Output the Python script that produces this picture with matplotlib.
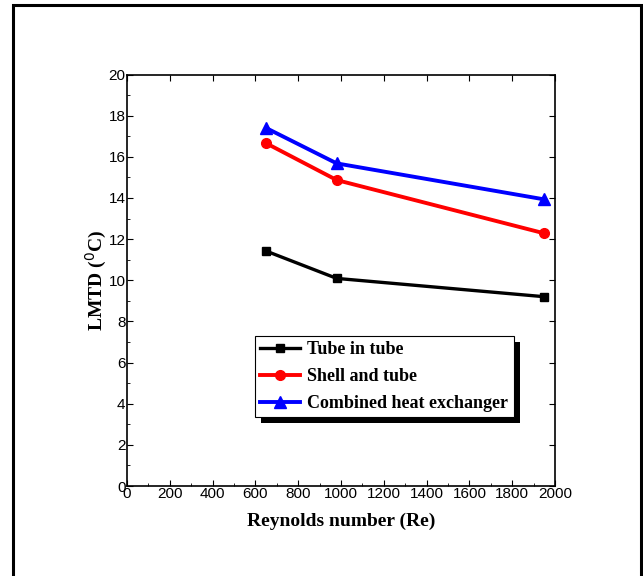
import numpy as np
import matplotlib
matplotlib.use('Agg')
import matplotlib.pyplot as plt
from matplotlib.patches import Rectangle
from matplotlib.ticker import MultipleLocator

# LMTD against Reynolds number for the three exchangers
re_vals = [650, 980, 1950]
lmtd_tube = [11.42, 10.09, 9.2]
lmtd_shell = [16.66, 14.87, 12.28]
lmtd_comb = [17.4, 15.68, 13.93]
names = ['Tube in tube', 'Shell and tube', 'Combined heat exchanger']

serif_bold = {'family': 'Liberation Serif', 'weight': 'bold'}
plt.rcParams['font.family'] = ['Liberation Sans Narrow', 'Liberation Sans', 'DejaVu Sans']

fig = plt.figure(figsize=(6.43, 5.76), dpi=100)
ax = fig.add_axes([0.1975, 0.15625, 0.6656, 0.7144])

ax.plot(re_vals, lmtd_tube, color='black', lw=2.4, marker='s', ms=6, label=names[0])
ax.plot(re_vals, lmtd_shell, color='red', lw=2.8, marker='o', ms=7, label=names[1])
ax.plot(re_vals, lmtd_comb, color='blue', lw=2.8, marker='^', ms=8, label=names[2])

ax.set_xlim(0, 2000)
ax.set_ylim(0, 20)
ax.xaxis.set_major_locator(MultipleLocator(200))
ax.xaxis.set_minor_locator(MultipleLocator(100))
ax.yaxis.set_major_locator(MultipleLocator(2))
ax.yaxis.set_minor_locator(MultipleLocator(1))
ax.tick_params(which='both', direction='in', top=True, right=True, labelsize=11, pad=1)
ax.tick_params(which='major', length=4)
ax.tick_params(which='minor', length=2, top=False, right=False)
for s in ax.spines.values():
    s.set_linewidth(1.2)

ax.set_xlabel('Reynolds number (Re)', fontdict=serif_bold, fontsize=14, labelpad=8)
ax.set_ylabel('LMTD ($^{0}$C)', fontdict=serif_bold, fontsize=14, labelpad=0)

leg = ax.legend(loc='lower left', bbox_to_anchor=(0.299, 0.167), borderaxespad=0,
                fancybox=False, framealpha=1, edgecolor='black', handlelength=2.2,
                handletextpad=0.4, borderpad=0.3, labelspacing=0.55,
                prop={'family': 'Liberation Serif', 'weight': 'bold', 'size': 13})
leg.get_frame().set_linewidth(0.8)

# solid drop shadow behind the legend box
fig.canvas.draw()
bb = leg.get_window_extent()
W, H = fig.bbox.width, fig.bbox.height
fig.patches.append(Rectangle(((bb.x0 + 6) / W, (bb.y0 - 6) / H), bb.width / W, bb.height / H,
                             transform=fig.transFigure, facecolor='black', edgecolor='none',
                             zorder=1))
ax.set_zorder(2)
ax.patch.set_alpha(0)

# outer frame
fig.patches.append(Rectangle((13 / W, -0.05), (641 - 13) / W, 571 / H + 0.05,
                             transform=fig.transFigure, fill=False, edgecolor='black',
                             lw=2.2, zorder=0))

fig.savefig('out.png', dpi=100)
